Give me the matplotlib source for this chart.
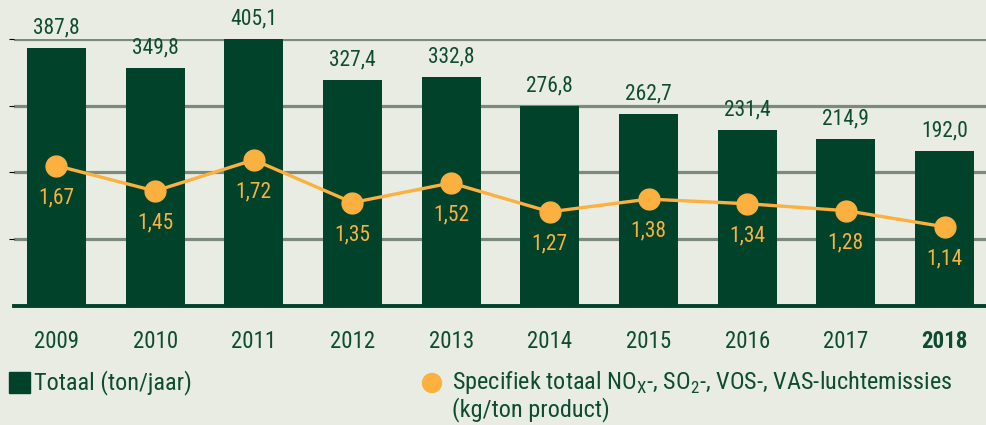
import matplotlib
matplotlib.use('Agg')

import matplotlib.pyplot as plt
import numpy as np

# data
years = ['2009', '2010', '2011', '2012', '2013', '2014', '2015', '2016', '2017', '2018']
totaal = [387.8, 349.8, 405.1, 327.4, 332.8, 276.8, 262.7, 231.4, 214.9, 192.0]
specifiek = [1.67, 1.45, 1.72, 1.35, 1.52, 1.27, 1.38, 1.34, 1.28, 1.14]

bg = '#e9ece3'
green = '#00432a'
txtgreen = '#0d4c32'
orange = '#fbb040'
gridc = '#7a8a7c'
fam = ['Liberation Sans Narrow', 'Roboto Condensed', 'Liberation Sans', 'DejaVu Sans']

plt.rcParams['font.family'] = fam

fig = plt.figure(figsize=(9.86, 4.25), dpi=100, facecolor=bg)
ax = fig.add_axes([14 / 986, 1 - 306 / 425, 1 - 14 / 986, 267 / 425])
ax.set_facecolor(bg)

ylo, yhi = -103, 405
x = np.arange(len(years))
ax.bar(x, np.array(totaal) - ylo, bottom=ylo, width=0.6, color=green, zorder=2)
ax.set_ylim(ylo, yhi)
ax.set_xlim(-0.43, len(years) - 1 + 0.42)
ax.set_yticks(np.linspace(ylo, yhi, 5)[1:])
ax.yaxis.grid(True, color=gridc, linewidth=2.3, zorder=0)
ax.tick_params(left=False, labelleft=False, bottom=False)
for s in ['top', 'right', 'left']:
    ax.spines[s].set_visible(False)
ax.spines['bottom'].set_color(green)
ax.spines['bottom'].set_linewidth(2.8)
ax.spines['bottom'].set_zorder(3)

ax.set_xticks(x)
ax.set_xticklabels(years, fontsize=16.5, color=txtgreen)
ax.tick_params(axis='x', pad=14)
ax.get_xticklabels()[-1].set_fontweight('bold')

for xi, v in zip(x, totaal):
    ax.annotate(('%.1f' % v).replace('.', ','), (xi, v), xytext=(0, 7),
                textcoords='offset points', ha='center', va='bottom',
                fontsize=15.5, color=txtgreen, clip_on=False)

ax2 = ax.twinx()
ax2.set_ylim(0.454, 2.767)
ax2.plot(x, specifiek, color=orange, linewidth=2.4, marker='o', markersize=15,
         zorder=4, clip_on=False)
ax2.axis('off')
for xi, v in zip(x, specifiek):
    ax2.annotate(('%.2f' % v).replace('.', ','), (xi, v), xytext=(0, -23),
                 textcoords='offset points', ha='center', va='center',
                 fontsize=15.5, color=orange)

# legend
fig.patches.append(plt.Rectangle((9 / 986, 1 - 393 / 425), 21 / 986, 21 / 425,
                                 transform=fig.transFigure, color=green))
fig.text(34 / 986, 1 - 383 / 425, 'Totaal (ton/jaar)', fontsize=17.5,
         color=txtgreen, va='center')
fig.patches.append(matplotlib.patches.Ellipse((432 / 986, 1 - 383 / 425), 19 / 986, 19 / 425,
                                              transform=fig.transFigure, color=orange))
fig.text(452 / 986, 1 - 383 / 425,
         'Specifiek totaal NO$_\\mathregular{X}$-, SO$_\\mathregular{2}$-, VOS-, VAS-luchtemissies',
         fontsize=17.5, color=txtgreen, va='center')
fig.text(452 / 986, 1 - 410 / 425, '(kg/ton product)', fontsize=17.5,
         color=txtgreen, va='center')

fig.savefig('out.png', dpi=100, facecolor=bg)
